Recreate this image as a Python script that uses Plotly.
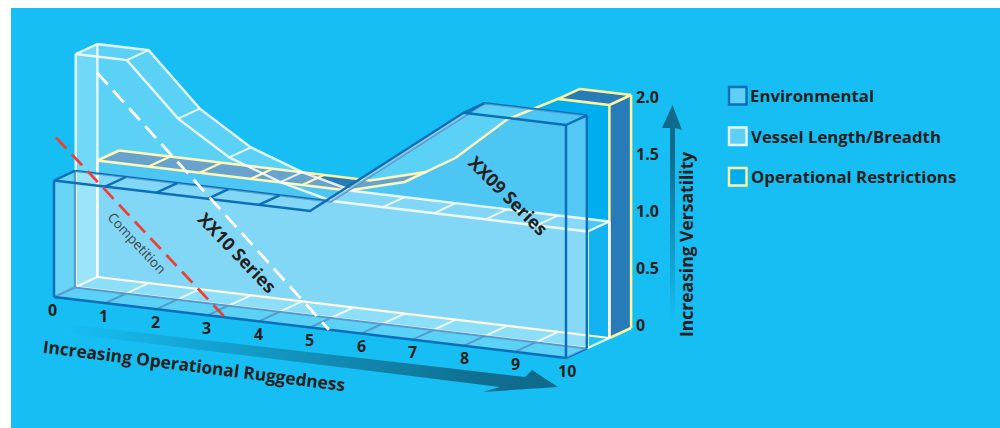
import plotly.graph_objects as go

# ---- data ----
rug_ticks = [0, 1, 2, 3, 4, 5, 6, 7, 8, 9, 10]
vers_ticks = [0, 0.5, 1.0, 1.5, 2.0]
vers_labels = ["0", "0.5", "1.0", "1.5", "2.0"]

env_x = [0, 5, 8, 10]
env_h = [1.0, 1.0, 2.0, 2.0]
env_ticks = [1, 2, 3, 4]

vessel_x = [0, 1, 2, 3, 4, 5, 10]
vessel_h = [2.0, 2.0, 1.55, 1.27, 1.11, 1.0, 1.0]
vessel_ticks = [1, 2, 3, 4, 6, 7, 8, 9]
vessel_floor_ticks = [1, 2, 3, 4, 5, 6, 7, 8, 9]

restr_x = [0, 4.9, 6, 7, 8, 9, 10]
restr_h = [1.0, 1.0, 1.13, 1.39, 1.77, 2.0, 2.0]
restr_ticks = [1, 2, 3, 4]

xx10_x = [0.84, 5.37]
xx10_v = [1.97, 0.0]
comp_x = [0.04, 3.34]
comp_v = [1.37, 0.0]

legend_names = ["Environmental", "Vessel Length/Breadth", "Operational Restrictions"]

BG = "#16bef3"
ENV = "#0b6fb8"
WHT = "rgba(255,255,255,0.85)"
YEL = "#fff59a"
DARK = "#277bb8"
CYAN = "#00aeef"
INK = "#231f20"
ARW = "15,106,139"
FACE = "rgba(255,255,255,0.3)"
SIDE_V = "rgba(255,255,255,0.14)"
SIDE_E = "rgba(255,255,255,0.08)"
FONT = "Open Sans"


def px(r, d):
    return 54 + 51.2 * r + 21.7 * d


def py(r, v, d):
    return 297 + 6.1 * r - 116.5 * v - 10 * d


fig = go.Figure()


def poly(xs, ys, fill):
    fig.add_trace(go.Scatter(x=xs, y=ys, mode="lines", fill="toself", fillcolor=fill,
                             line=dict(width=0), hoverinfo="skip", showlegend=False))


def grad_poly(xs, ys, kind, scale):
    fig.add_trace(go.Scatter(x=xs, y=ys, mode="lines", fill="toself",
                             fillgradient=dict(type=kind, colorscale=scale),
                             line=dict(width=0), hoverinfo="skip", showlegend=False))


def line(xs, ys, color, w=2.4, dash=None):
    fig.add_trace(go.Scatter(x=xs, y=ys, mode="lines",
                             line=dict(color=color, width=w, dash=dash),
                             hoverinfo="skip", showlegend=False))


def edge(rs, hs, d):
    return [px(r, d) for r in rs], [py(r, h, d) for r, h in zip(rs, hs)]


def front_face(rs, hs, d, fill):
    xs, ys = edge(rs, hs, d)
    poly(xs + [px(rs[-1], d), px(rs[0], d)], ys + [py(rs[-1], 0, d), py(rs[0], 0, d)], fill)


def strip(rs, hs, d0, d1, fill):
    xa, ya = edge(rs, hs, d0)
    xb, yb = edge(rs, hs, d1)
    poly(xa + xb[::-1], ya + yb[::-1], fill)


def side(r, h, d0, d1, fill):
    poly([px(r, d0), px(r, d1), px(r, d1), px(r, d0)],
         [py(r, h, d0), py(r, h, d1), py(r, 0, d1), py(r, 0, d0)], fill)


def seg(r, h0, d0, h1, d1, color, w=2.4):
    line([px(r, d0), px(r, d1)], [py(r, h0, d0), py(r, h1, d1)], color, w)


def height_at(xs, hs, r):
    for i in range(len(xs) - 1):
        if xs[i] <= r <= xs[i + 1]:
            t = (r - xs[i]) / (xs[i + 1] - xs[i])
            return hs[i] + t * (hs[i + 1] - hs[i])
    return hs[-1]


# gradient arrows
grad_poly([73, 525, 532, 558, 483, 500, 65, 73], [325, 377, 370, 387, 392, 387, 333, 325],
          "horizontal", [[0, f"rgba({ARW},0)"], [0.85, f"rgba({ARW},0.95)"], [1, f"rgba({ARW},1)"]])
grad_poly([670, 670, 662, 672.5, 682, 675, 675, 670], [322, 128, 128, 105, 130, 128, 322, 322],
          "vertical", [[0, f"rgba({ARW},0)"], [0.8, f"rgba({ARW},1)"], [1, f"rgba({ARW},1)"]])

# ---------- Operational Restrictions (back layer) ----------
D2, D3 = 2.0, 3.0
front_face(restr_x, restr_h, D2, CYAN)
strip(restr_x[:3], restr_h[:3], D2, D3, DARK)
strip(restr_x[-2:], restr_h[-2:], D2, D3, DARK)
side(10, 2.0, D2, D3, DARK)
xs, ys = edge(restr_x, restr_h, D2)
line(xs, ys, YEL, 2.5)
xs, ys = edge(restr_x[:3], restr_h[:3], D3)
line(xs, ys, YEL, 2.5)
xs, ys = edge(restr_x[-2:], restr_h[-2:], D3)
line(xs, ys, YEL, 2.5)
for r in restr_ticks:
    seg(r, 1.0, D2, 1.0, D3, YEL, 2.2)
seg(0, 1.0, D2, 1.0, D3, YEL, 2.5)
seg(9, 2.0, D2, 2.0, D3, YEL, 2.5)
seg(10, 2.0, D2, 2.0, D3, YEL, 2.5)
seg(10, 0, D3, 2.0, D3, YEL, 2.5)
seg(10, 0, D2, 2.0, D2, YEL, 2.5)
seg(10, 0, D2, 0, D3, YEL, 2.5)
seg(0, 0, D2, 1.0, D2, YEL, 2.2)
line([px(0, D2), px(10, D2)], [py(0, 0, D2), py(10, 0, D2)], "#fff9c0", 2.2)

# ---------- Vessel Length/Breadth (middle layer) ----------
D1, D2v = 1.0, 2.0
xs, ys = edge(vessel_x, vessel_h, D2v)
line(xs, ys, WHT, 2.4)
side(0, 2.0, D1, D2v, SIDE_V)
strip(vessel_x, vessel_h, D1, D2v, FACE)
front_face(vessel_x, vessel_h, D1, FACE)
side(10, 1.0, D1, D2v, "rgba(255,255,255,0.07)")
xs, ys = edge(vessel_x, vessel_h, D1)
line(xs, ys, WHT, 2.4)
for r in vessel_ticks:
    h = height_at(vessel_x, vessel_h, r)
    seg(r, h, D1, h, D2v, WHT, 2.0)
for r in vessel_floor_ticks:
    seg(r, 0, D1, 0, D2v, WHT, 2.0)
for r in (0, 10):
    h = height_at(vessel_x, vessel_h, r)
    seg(r, h, D1, h, D2v, WHT)
    seg(r, 0, D1, h, D1, WHT)
    seg(r, 0, D2v, h, D2v, WHT)
    seg(r, 0, D1, 0, D2v, WHT)
line([px(0, D1), px(10, D1)], [py(0, 0, D1), py(10, 0, D1)], WHT, 2.0)

# ---------- Environmental (front layer) ----------
D0, D1e = 0.0, 0.96
xs, ys = edge(env_x, env_h, D1e)
line(xs, ys, ENV, 2.4)
line([px(0, D1e), px(10, D1e)], [py(0, 0, D1e), py(10, 0, D1e)], ENV, 2.0)
for r in rug_ticks[1:-1]:
    seg(r, 0, D0, 0, D1e, ENV, 2.0)
seg(0, 0, D0, 0, D1e, ENV)
seg(10, 0, D0, 0, D1e, ENV)
seg(0, 0, D1e, 1.0, D1e, ENV)
side(0, 1.0, D0, D1e, SIDE_E)
strip(env_x, env_h, D0, D1e, FACE)
side(10, 2.0, D0, D1e, "rgba(255,255,255,0.33)")
front_face(env_x, env_h, D0, FACE)
seg(10, 0, D1e, 2.0, D1e, ENV)
xs, ys = edge(env_x, env_h, D0)
line(xs, ys, ENV, 2.5)
for r in env_ticks:
    seg(r, 1.0, D0, 1.0, D1e, ENV)
seg(0, 1.0, D0, 1.0, D1e, ENV)
seg(8, 2.0, D0, 2.0, D1e, ENV)
seg(10, 2.0, D0, 2.0, D1e, ENV)
seg(0, 0, D0, 1.0, D0, ENV, 2.5)
seg(10, 0, D0, 2.0, D0, ENV, 2.5)
line([px(0, D0), px(10, D0)], [py(0, 0, D0), py(10, 0, D0)], ENV, 2.5)

# ---------- dashed lines ----------
line([px(r, 0) for r in xx10_x], [py(r, v, 0) for r, v in zip(xx10_x, xx10_v)],
     "white", 2.8, "16px,8px")
line([px(r, 0) for r in comp_x], [py(r, v, 0) for r, v in zip(comp_x, comp_v)],
     "#ef3e36", 2.8, "15px,8px")

# ---------- text ----------
ann = []


def text(x, y, s, size, angle=0, anchor="center", color=INK, weight=700):
    ann.append(dict(x=x, y=y, xref="x", yref="y", text=s, showarrow=False, textangle=angle,
                    xanchor=anchor, yanchor="middle", borderpad=0, borderwidth=0,
                    font=dict(family=FONT, size=size, color=color, weight=weight)))


for r in rug_ticks:
    text(px(r, 0) - 1.5 + 0.25 * r, py(r, 0, 0) + 12.5, str(r), 16)
for v, s in zip(vers_ticks, vers_labels):
    text(636, 325 - 114 * v, s, 16, anchor="left")
text(194, 365, "Increasing Operational Ruggedness", 17.3, 7.3)
text(686, 245, "Increasing Versatility", 17.5, -90)
text(237, 252, "XX10 Series", 18, 46)
text(508, 195, "XX09 Series", 18, 45)
text(137, 243, "Competition", 13.5, 47, color="#444", weight=400)

# ---------- legend ----------
swatch_fill = ["#5ed0f7", "#5ed0f7", CYAN]
swatch_line = [ENV, "#e8f8fd", YEL]
swatch_top = [87, 127.5, 168]
label_x = [750, 751, 751]
shapes = [dict(type="rect", xref="x", yref="y", x0=11, x1=1000, y0=8, y1=428,
               fillcolor=BG, line_width=0, layer="below")]
for name, f, c, t, lx in zip(legend_names, swatch_fill, swatch_line, swatch_top, label_x):
    shapes.append(dict(type="rect", xref="x", yref="y", x0=729, x1=746.5, y0=t, y1=t + 17.5,
                       fillcolor=f, line=dict(color=c, width=2.4)))
    text(lx, t + 8.5, name, 16.8, anchor="left")

fig.update_layout(width=1000, height=428, margin=dict(l=0, r=0, t=0, b=0),
                  paper_bgcolor="white", plot_bgcolor="white",
                  shapes=shapes, annotations=ann, showlegend=False,
                  xaxis=dict(range=[0, 1000], visible=False, fixedrange=True),
                  yaxis=dict(range=[428, 0], visible=False, fixedrange=True))

fig.write_html("out.html", config={"displayModeBar": False},
               post_script="document.body.style.margin='0';document.body.style.overflow='hidden';")
